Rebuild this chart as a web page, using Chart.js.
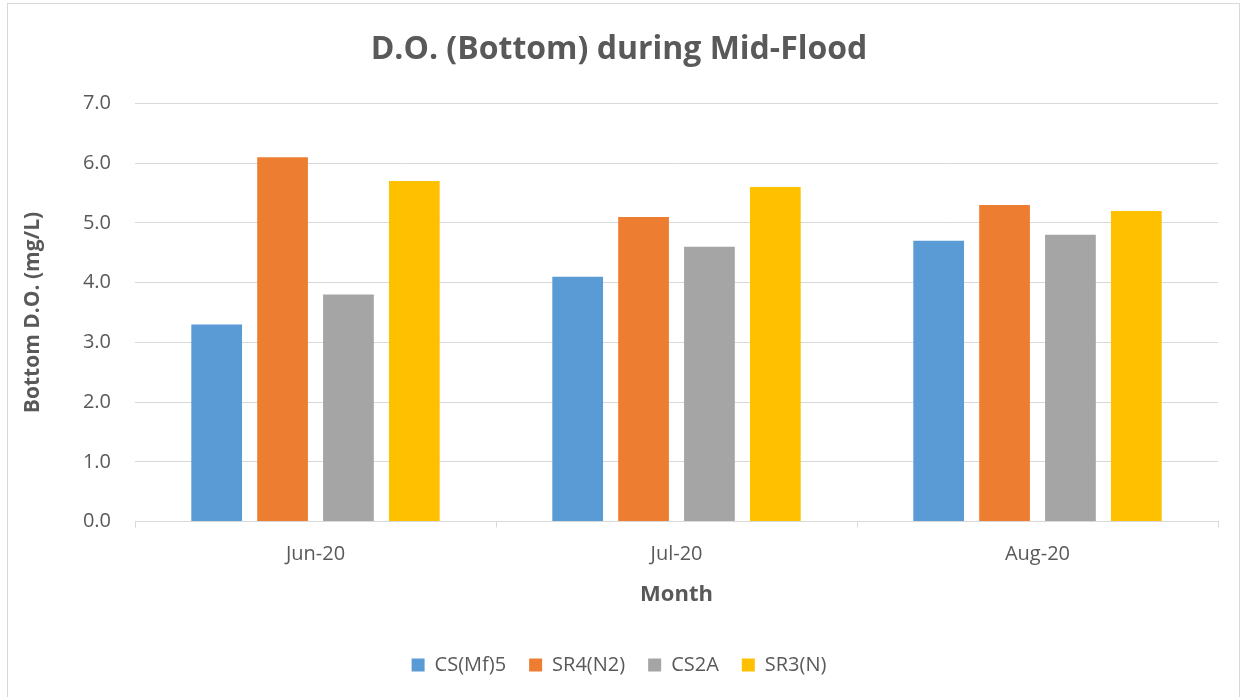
<!DOCTYPE html>
<html>
<head>
<meta charset="utf-8">
<script src="https://cdn.jsdelivr.net/npm/chart.js@4"></script>
<style>
  html, body { margin: 0; padding: 0; background: #fff; }
  #frame { position: absolute; left: 7px; top: 3px; width: 1233px; height: 700px; border: 1px solid #d9d9d9; box-sizing: border-box; }
  #wrap { position: absolute; left: 0; top: 0; width: 1247px; height: 697px; }
</style>
</head>
<body>
<div id="frame"></div>
<div id="wrap"><canvas id="doChart"></canvas></div>
<script>
var months = ['Jun-20', 'Jul-20', 'Aug-20'];
var csMf5 = [3.3, 4.1, 4.7];
var sr4N2 = [6.1, 5.1, 5.3];
var cs2a = [3.8, 4.6, 4.8];
var sr3N = [5.7, 5.6, 5.2];
var seriesNames = ['CS(Mf)5', 'SR4(N2)', 'CS2A', 'SR3(N)'];

var font = "'Open Sans', 'Noto Sans', sans-serif";
var textColor = '#595959';

function makeSet(label, values, color) {
    return {
        label: label,
        data: values,
        backgroundColor: color,
        borderWidth: 0,
        barPercentage: 0.77,
        categoryPercentage: 0.73
    };
}

var ctx = document.getElementById('doChart').getContext('2d');
var doChart = new Chart(ctx, {
    type: 'bar',
    data: {
        labels: months,
        datasets: [
            makeSet(seriesNames[0], csMf5, '#5b9bd5'),
            makeSet(seriesNames[1], sr4N2, '#ed7d31'),
            makeSet(seriesNames[2], cs2a, '#a5a5a5'),
            makeSet(seriesNames[3], sr3N, '#ffc000')
        ]
    },
    options: {
        responsive: true,
        maintainAspectRatio: false,
        animation: false,
        layout: { padding: { left: 20, right: 29, top: 31, bottom: 12 } },
        plugins: {
            title: {
                display: true,
                text: 'D.O. (Bottom) during Mid-Flood',
                color: textColor,
                font: { family: font, size: 32, weight: 'bold' },
                padding: { top: 0, bottom: 34 }
            },
            legend: {
                position: 'bottom',
                labels: {
                    color: textColor,
                    font: { family: font, size: 20 },
                    boxWidth: 13,
                    boxHeight: 13,
                    padding: 23
                }
            },
            tooltip: { enabled: false }
        },
        scales: {
            x: {
                grid: { drawOnChartArea: false, tickLength: 6, color: '#d9d9d9' },
                border: { color: '#d9d9d9' },
                ticks: { color: textColor, font: { family: font, size: 20 }, padding: 15 },
                title: {
                    display: true,
                    text: 'Month',
                    color: textColor,
                    font: { family: font, size: 22, weight: 'bold' },
                    padding: { top: 0, bottom: 24 }
                }
            },
            y: {
                min: 0,
                max: 7,
                afterFit: function (scale) { scale.width = 115; },
                grid: { color: '#d9d9d9', drawTicks: false },
                border: { display: false },
                ticks: {
                    stepSize: 1,
                    color: textColor,
                    font: { family: font, size: 20 },
                    padding: 24,
                    callback: function (v) { return v.toFixed(1); }
                },
                title: {
                    display: true,
                    text: 'Bottom D.O. (mg/L)',
                    color: textColor,
                    font: { family: font, size: 21, weight: 'bold' },
                    padding: { top: 0, bottom: 0 }
                }
            }
        }
    }
});
</script>
</body>
</html>
